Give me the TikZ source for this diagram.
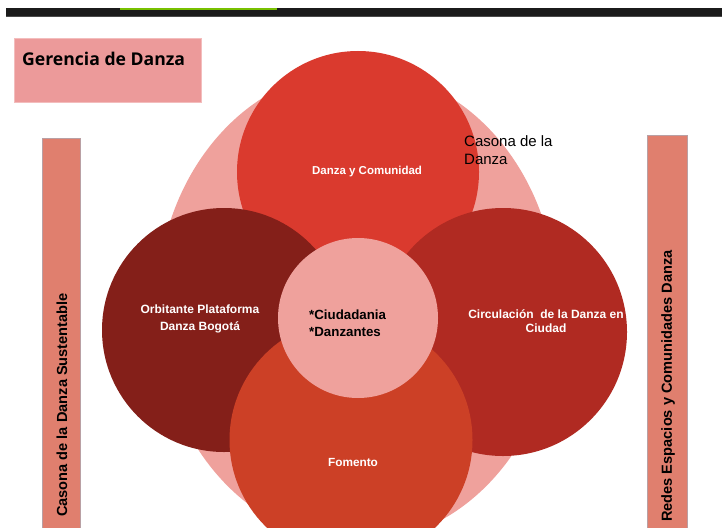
\documentclass[tikz,border=0pt]{standalone}
\usepackage{fontspec}
\setmainfont{Liberation Sans}
\newfontfamily\titlefont{Open Sans}
\usetikzlibrary{shapes.geometric}
\definecolor{palepink}{HTML}{EFA19C}
\definecolor{boxpink}{HTML}{EC9A9A}
\definecolor{boxedge}{HTML}{F3BDBD}
\definecolor{salmon}{HTML}{E07F6E}
\definecolor{baredge}{HTML}{B9A0A4}
\definecolor{topred}{HTML}{DA3A2E}
\definecolor{maroon}{HTML}{841F19}
\definecolor{rightred}{HTML}{B02A22}
\definecolor{fomento}{HTML}{CC4026}
\definecolor{topbar}{HTML}{1B1B1B}
\definecolor{topline}{HTML}{4A4A4A}
\definecolor{greenline}{HTML}{78C000}
\begin{document}
\begin{tikzpicture}[x=1pt,y=-1pt,
  disc/.style={circle, inner sep=0pt, minimum size=#1},
  wlabel/.style={text=white, font=\bfseries\fontsize{11.8}{16}\selectfont, align=center, inner sep=0pt},
  blabel/.style={text=black, inner sep=0pt},
  vbar/.style={fill=salmon, draw=baredge, line width=0.8pt},
  vtext/.style={rotate=90, font=\bfseries\fontsize{14.6}{16}\selectfont, inner sep=0pt}
]
\useasboundingbox[fill=white] (0,0) rectangle (722,527);
\clip (0,0) rectangle (722,527);
% top bar
\fill[topbar] (6,8) rectangle (722,16);
\fill[topline] (6,16) rectangle (722,17.5);
\fill[greenline] (120,8) rectangle (277,9.6);
% title box
\node[fill=boxpink, draw=boxedge, line width=0.8pt, minimum width=187pt, minimum height=64pt, inner sep=0pt] (gerbox) at (107.5,70) {};
\node[blabel, anchor=base west, font=\titlefont\bfseries\fontsize{17.6}{20}\selectfont] (gertext) at (22,65.5) {Gerencia de Danza};
% side bars
\node[vbar, minimum width=38pt, minimum height=400pt, inner sep=0pt, anchor=north] (lbar) at (61,138) {};
\node[vbar, minimum width=40pt, minimum height=400pt, inner sep=0pt, anchor=north] (rbar) at (667,135) {};
\node[vtext] (ltext) at (62,405) {Casona de la Danza Sustentable};
\node[vtext] (rtext) at (668,386) {Redes Espacios y Comunidades Danza};
% circles
\node[ellipse, fill=palepink, inner sep=0pt, minimum width=400pt, minimum height=472pt] (bg) at (357,306) {};
\node[disc=242pt, fill=topred] (ctop) at (358,172) {};
\node[disc=244pt, fill=maroon] (cleft) at (224,330) {};
\node[disc=248pt, fill=rightred] (cright) at (503,332) {};
\node[disc=243pt, fill=fomento] (cbot) at (351,440) {};
\node[disc=160pt, fill=palepink] (cmid) at (358,318) {};
% labels
\node[wlabel, font=\bfseries\fontsize{11.5}{16}\selectfont] (ttop) at (367,172) {Danza y Comunidad};
\node[wlabel, font=\bfseries\fontsize{12}{17}\selectfont] (tleft) at (200,318.5) {Orbitante Plataforma\\Danza Bogotá};
\node[wlabel, font=\bfseries\fontsize{12}{14}\selectfont] (tright) at (546,321) {Circulación\ \ de la Danza en\\Ciudad};
\node[wlabel] (tbot) at (353,462) {Fomento};
\node[blabel, align=left, font=\bfseries\fontsize{13.3}{17}\selectfont, anchor=west] (tmid) at (309,323.5) {*Ciudadania\\*Danzantes};
\node[blabel, align=left, font=\fontsize{15}{18}\selectfont, anchor=north west] (tcasona) at (464,135) {Casona de la\\Danza};
\end{tikzpicture}
\end{document}
